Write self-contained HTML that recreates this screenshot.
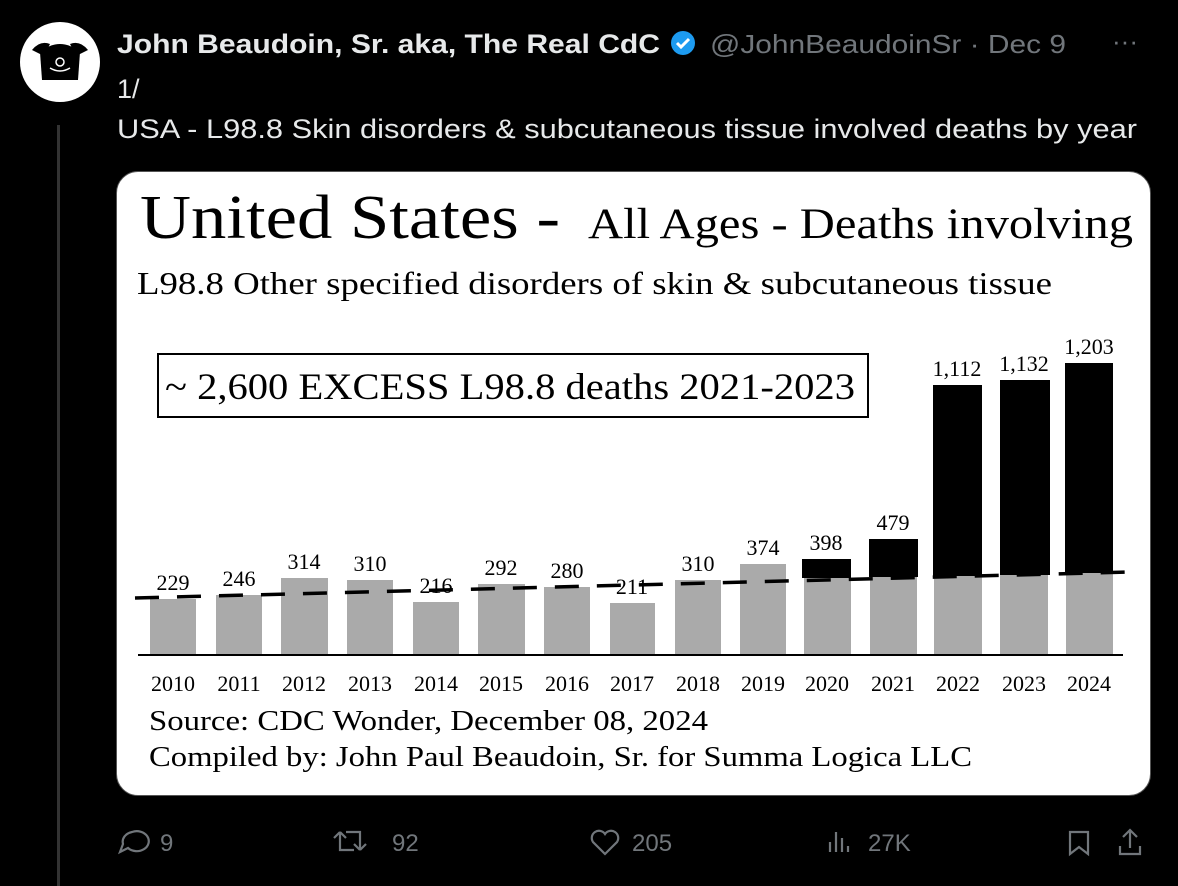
<!DOCTYPE html>
<html><head><meta charset="utf-8"><style>
body{margin:0;width:1178px;height:886px;background:#000;overflow:hidden;font-family:"Liberation Sans",sans-serif;position:relative}
</style></head><body>
<div style="position:absolute;left:20px;top:22px;width:80px;height:80px;border-radius:50%;background:#fff"></div>
<svg style="position:absolute;left:20px;top:22px" width="80" height="80"><path d="M20 30 Q40 14 60 30 L58 58 L22 58 Z" fill="#000"/><path d="M12 28 Q20 18 30 22 L24 34Z M68 28 Q60 18 50 22 L56 34Z" fill="#000"/><circle cx="40" cy="40" r="4" fill="none" stroke="#fff" stroke-width="1.5"/><path d="M30 46 Q40 52 50 46" stroke="#fff" fill="none" stroke-width="1.5"/></svg>
<div style="position:absolute;left:57px;top:125px;width:3px;height:761px;background:#333"></div>
<div style="position:absolute;left:116px;top:171px;width:1033px;height:623px;border-radius:22px;background:#fff;border:1px solid #555"></div>
<svg style="position:absolute;left:0;top:0" width="1178" height="886">
<g font-family="Liberation Sans,sans-serif" lengthAdjust="spacingAndGlyphs">
<text x="117" y="53" font-size="27" font-weight="bold" fill="#e7e9ea" textLength="543" lengthAdjust="spacingAndGlyphs">John Beaudoin, Sr. aka, The Real CdC</text>
<text x="710" y="53" font-size="26" fill="#71767b" textLength="356" lengthAdjust="spacingAndGlyphs">@JohnBeaudoinSr · Dec 9</text>
<text x="1112" y="50" font-size="26" fill="#71767b">···</text>
<text x="117" y="98" font-size="27" fill="#e7e9ea">1/</text>
<text x="117" y="138" font-size="27" fill="#e7e9ea" textLength="1020" lengthAdjust="spacingAndGlyphs">USA - L98.8 Skin disorders &amp; subcutaneous tissue involved deaths by year</text>
</g>
<circle cx="683" cy="43" r="12" fill="#1d9bf0"/><path d="M677 43 L681 47 L689 39" stroke="#fff" stroke-width="3" fill="none"/>
<g font-family="Liberation Serif,serif">
<text x="140" y="238" font-size="62" textLength="420" lengthAdjust="spacingAndGlyphs">United States -</text>
<text x="588" y="238" font-size="43" textLength="545" lengthAdjust="spacingAndGlyphs">All Ages - Deaths involving</text>
<text x="137" y="294" font-size="32" textLength="915" lengthAdjust="spacingAndGlyphs">L98.8 Other specified disorders of skin &amp; subcutaneous tissue</text>
<rect x="158" y="354" width="710" height="63" fill="none" stroke="#000" stroke-width="2"/>
<text x="165" y="399" font-size="37" textLength="690" lengthAdjust="spacingAndGlyphs">~ 2,600 EXCESS L98.8 deaths 2021-2023</text>
<g fill="#aaa">
<rect x="150" y="599" width="46" height="56"/><rect x="216" y="595" width="46" height="60"/><rect x="281" y="578" width="47" height="77"/><rect x="347" y="580" width="46" height="75"/><rect x="413" y="602" width="46" height="53"/><rect x="478" y="584" width="47" height="71"/><rect x="544" y="587" width="46" height="68"/><rect x="610" y="603" width="45" height="52"/><rect x="675" y="580" width="46" height="75"/><rect x="740" y="564" width="46" height="91"/><rect x="804" y="578" width="47" height="77"/><rect x="870" y="577" width="47" height="78"/><rect x="934" y="576" width="48" height="79"/><rect x="1000" y="575" width="48" height="80"/><rect x="1066" y="573" width="47" height="82"/>
</g>
<g fill="#000">
<rect x="802" y="559" width="49" height="19"/><rect x="869" y="539" width="49" height="38"/><rect x="933" y="385" width="49" height="191"/><rect x="1000" y="380" width="50" height="195"/><rect x="1065" y="363" width="48" height="210"/>
</g>
<line x1="135" y1="598" x2="1130" y2="572" stroke="#000" stroke-width="3.5" stroke-dasharray="24,18"/>
<line x1="138" y1="655" x2="1123" y2="655" stroke="#000" stroke-width="2"/>
<g font-size="22" text-anchor="middle">
<text x="173" y="590">229</text><text x="239" y="586">246</text><text x="304" y="569">314</text><text x="370" y="571">310</text><text x="436" y="593">216</text><text x="501" y="575">292</text><text x="567" y="578">280</text><text x="632" y="594">211</text><text x="698" y="571">310</text><text x="763" y="555">374</text><text x="826" y="550">398</text><text x="893" y="530">479</text><text x="957" y="376">1,112</text><text x="1024" y="371">1,132</text><text x="1089" y="354">1,203</text>
</g>
<g font-size="22" text-anchor="middle">
<text x="173" y="691">2010</text><text x="239" y="691">2011</text><text x="304" y="691">2012</text><text x="370" y="691">2013</text><text x="436" y="691">2014</text><text x="501" y="691">2015</text><text x="567" y="691">2016</text><text x="632" y="691">2017</text><text x="698" y="691">2018</text><text x="763" y="691">2019</text><text x="827" y="691">2020</text><text x="893" y="691">2021</text><text x="958" y="691">2022</text><text x="1024" y="691">2023</text><text x="1089" y="691">2024</text>
</g>
<text x="149" y="730" font-size="29" textLength="559" lengthAdjust="spacingAndGlyphs">Source:  CDC Wonder, December 08, 2024</text>
<text x="149" y="766" font-size="29" textLength="823" lengthAdjust="spacingAndGlyphs">Compiled by:  John Paul Beaudoin, Sr. for Summa Logica LLC</text>
</g>
</svg>
<svg style="position:absolute;left:0;top:820px" width="1178" height="50" fill="none" stroke="#71767b" stroke-width="2.2">
<path d="M132 12 a12 10 0 1 1 -4 16 l-8 4 l3 -8 a12 10 0 0 1 9 -12z"/>
<path d="M340 12 l-6 6 m6 -6 l6 6 m-6 -6 v18 h14 M360 30 l-6 -6 m6 6 l6 -6 m-6 6 v-18 h-14"/>
<path d="M605 34 l-12 -12 a6 6 0 0 1 12 -8 a6 6 0 0 1 12 8z"/>
<path d="M830 32 v-10 M836 32 v-20 M842 32 v-14 M848 32 v-6"/>
<path d="M1070 12 h18 v22 l-9 -7 l-9 7z"/>
<path d="M1130 10 v18 m-7 -11 l7 -7 l7 7 M1120 26 v8 h20 v-8"/>
</svg>
<svg style="position:absolute;left:0;top:0" width="1178" height="886" font-family="Liberation Sans,sans-serif" font-size="24" fill="#71767b">
<text x="160" y="851">9</text><text x="392" y="851">92</text><text x="632" y="851">205</text><text x="868" y="851">27K</text>
</svg>
</body></html>
